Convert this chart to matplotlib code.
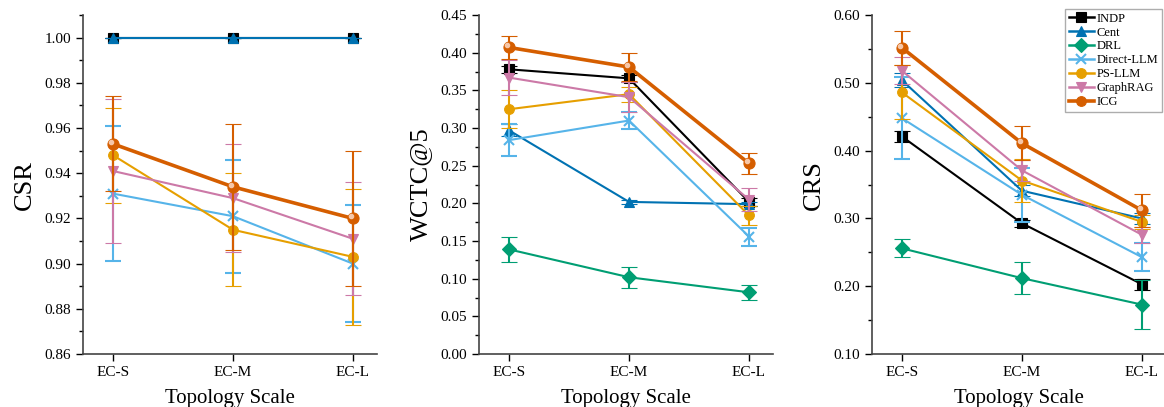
import numpy as np
import matplotlib
matplotlib.use("Agg")
import matplotlib.pyplot as plt
from matplotlib.ticker import MultipleLocator, AutoMinorLocator, FormatStrFormatter
from matplotlib.lines import Line2D

plt.rcParams['font.family'] = ['Liberation Serif', 'DejaVu Serif']

scales = ['EC-S', 'EC-M', 'EC-L']
methods = ['INDP', 'Cent', 'DRL', 'Direct-LLM', 'PS-LLM', 'GraphRAG', 'ICG']
colors = ['#000000', '#0072B2', '#009E73', '#56B4E9', '#E69F00', '#CC79A7', '#D55E00']
markers = ['s', '^', 'D', 'x', 'o', 'v', 'o']

nan = np.nan

# CSR (DRL not shown)
csr = {
    'INDP': [1.000, 1.000, 1.000],
    'Cent': [1.000, 1.000, 1.000],
    'DRL': [nan, nan, nan],
    'Direct-LLM': [0.931, 0.921, 0.900],
    'PS-LLM': [0.948, 0.915, 0.903],
    'GraphRAG': [0.941, 0.929, 0.911],
    'ICG': [0.953, 0.934, 0.920],
}
csr_err = {
    'INDP': [0, 0, 0],
    'Cent': [0, 0, 0],
    'DRL': [0, 0, 0],
    'Direct-LLM': [0.030, 0.025, 0.026],
    'PS-LLM': [0.021, 0.025, 0.030],
    'GraphRAG': [0.032, 0.024, 0.025],
    'ICG': [0.021, 0.028, 0.030],
}

# WCTC@5
wctc = {
    'INDP': [0.378, 0.366, 0.202],
    'Cent': [0.297, 0.202, 0.199],
    'DRL': [0.139, 0.102, 0.082],
    'Direct-LLM': [0.284, 0.310, 0.156],
    'PS-LLM': [0.325, 0.345, 0.184],
    'GraphRAG': [0.367, 0.341, 0.205],
    'ICG': [0.407, 0.381, 0.253],
}
wctc_err = {
    'INDP': [0.005, 0.005, 0.005],
    'Cent': [0.008, 0.003, 0.003],
    'DRL': [0.017, 0.014, 0.010],
    'Direct-LLM': [0.021, 0.011, 0.012],
    'PS-LLM': [0.025, 0.010, 0.012],
    'GraphRAG': [0.023, 0.020, 0.015],
    'ICG': [0.015, 0.019, 0.014],
}

# CRS
crs = {
    'INDP': [0.421, 0.293, 0.203],
    'Cent': [0.504, 0.341, 0.300],
    'DRL': [0.256, 0.212, 0.173],
    'Direct-LLM': [0.448, 0.335, 0.243],
    'PS-LLM': [0.486, 0.356, 0.295],
    'GraphRAG': [0.518, 0.371, 0.276],
    'ICG': [0.552, 0.411, 0.312],
}
crs_err = {
    'INDP': [0.008, 0.005, 0.008],
    'Cent': [0.010, 0.008, 0.008],
    'DRL': [0.013, 0.024, 0.036],
    'Direct-LLM': [0.060, 0.040, 0.021],
    'PS-LLM': [0.040, 0.032, 0.010],
    'GraphRAG': [0.020, 0.015, 0.012],
    'ICG': [0.025, 0.025, 0.024],
}

panels = [
    (csr, csr_err, 'CSR', (0.86, 1.01), 0.02),
    (wctc, wctc_err, 'WCTC@5', (0.0, 0.45), 0.05),
    (crs, crs_err, 'CRS', (0.10, 0.60), 0.10),
]

fig = plt.figure(figsize=(11.64, 4.07), dpi=100)
lefts = [0.0713, 0.4115, 0.749]
x = np.arange(len(scales))

for i, (vals, errs, ylab, ylim, step) in enumerate(panels):
    ax = fig.add_axes([lefts[i], 0.130, 0.2526, 0.833])
    for k, m in enumerate(methods):
        y = np.array(vals[m], dtype=float)
        if np.all(np.isnan(y)):
            continue
        lw = 2.6 if m == 'ICG' else 1.5
        ms = 8 if m == 'ICG' else 7
        ax.errorbar(x, y, yerr=errs[m], color=colors[k], marker=markers[k],
                    markersize=ms, linewidth=lw, elinewidth=1.5, capsize=6,
                    capthick=1.5, markeredgewidth=1.5 if markers[k] == 'x' else 0.8,
                    zorder=3 + k)
        if m == 'ICG':
            ax.plot(x - 0.015, y + (ylim[1] - ylim[0]) * 0.006, 'o',
                    color='#F6C7A8', markersize=3, zorder=20)
    ax.set_xlim(-0.25, 2.2)
    ax.set_ylim(*ylim)
    ax.set_xticks(x)
    ax.set_xticklabels(scales, fontsize=11)
    ax.yaxis.set_major_locator(MultipleLocator(step))
    ax.yaxis.set_minor_locator(AutoMinorLocator(2))
    ax.yaxis.set_major_formatter(FormatStrFormatter('%.2f'))
    ax.tick_params(axis='y', labelsize=11, direction='out', length=5, width=1)
    ax.tick_params(axis='y', which='minor', direction='out', length=3, width=1)
    ax.tick_params(axis='x', direction='out', length=5, width=1)
    ax.spines['top'].set_visible(False)
    ax.spines['right'].set_visible(False)
    for s in ['left', 'bottom']:
        ax.spines[s].set_color('#444444')
        ax.spines[s].set_linewidth(1.2)
    ax.set_ylabel(ylab, fontsize=19, labelpad=6)
    ax.set_xlabel('Topology Scale', fontsize=15, labelpad=7)
    if i == 2:
        handles = [Line2D([], [], color=colors[k], marker=markers[k],
                          linewidth=2.6 if methods[k] == 'ICG' else 1.8,
                          markersize=7, markeredgewidth=1.5 if markers[k] == 'x' else 0.8)
                   for k in range(len(methods))]
        leg = ax.legend(handles, methods, loc='upper right',
                        bbox_to_anchor=(0.998, 0.978), bbox_transform=fig.transFigure,
                        fontsize=9, frameon=True, fancybox=False, handlelength=2.0,
                        handletextpad=0.2, labelspacing=0.15, borderpad=0.3,
                        borderaxespad=0.0)
        leg.get_frame().set_edgecolor('#999999')
        leg.get_frame().set_linewidth(1.0)

fig.savefig('out.png', dpi=100)
